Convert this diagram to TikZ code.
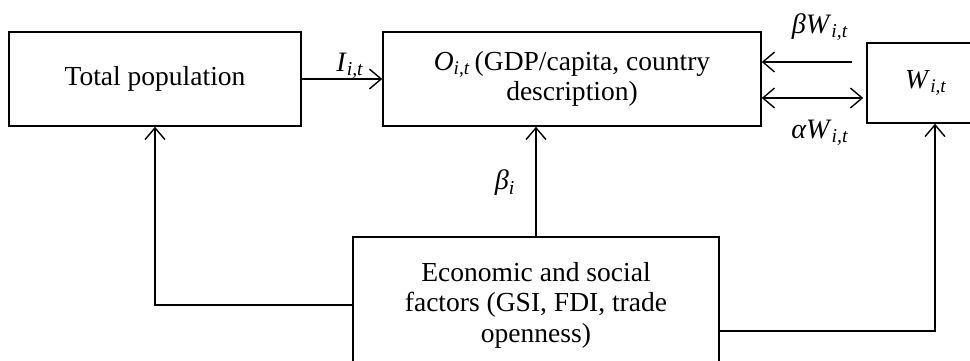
\documentclass[tikz,border=0pt]{standalone}
\usepackage{fontspec}
\setmainfont{Liberation Serif}
\usetikzlibrary{calc,arrows.meta}
\newcommand{\vsub}[2]{\textit{#1}\textsubscript{\textit{#2}}}
\begin{document}
\begin{tikzpicture}[x=0.03cm,y=-0.03cm,
  box/.style={draw,line width=1.3pt,inner sep=0pt,align=center,
    font=\fontsize{23.5}{26}\selectfont},
  arr/.style={line width=1.2pt,-{Straight Barb[length=10pt,width=17pt,line width=1.2pt]}},
  arrb/.style={line width=1.2pt,{Straight Barb[length=10pt,width=17pt,line width=1.2pt]}-{Straight Barb[length=10pt,width=17pt,line width=1.2pt]}},
  lab/.style={font=\fontsize{24}{26}\selectfont}]
\useasboundingbox (0,0) rectangle (970,360);
%% boxes
\node[box,minimum width=292*0.03cm,minimum height=94*0.03cm] (pop) at (155,79) {Total population};
\node[box,minimum width=378*0.03cm,minimum height=94*0.03cm] (out) at (572,79)
  {\vsub{O}{i,t}\,(GDP/capita, country\\description)};
\node[box,minimum width=118*0.03cm,minimum height=80*0.03cm] (W) at (926,83) {\vsub{W}{i,t}};
\node[box,minimum width=366*0.03cm,minimum height=136*0.03cm] (E) at (536,305)
  {Economic and social\\factors (GSI, FDI, trade\\openness)};
%% helper points
\coordinate (wtop) at ($(W.west)+(-14,-21)$);
\coordinate (wbot) at ($(W.west)+(-3,15)$);
%% connectors
\draw[arr] (pop.east) -- (out.west);
\draw[arr] (wtop) -- (wtop -| out.east);
\draw[arrb] (wbot -| out.east) -- (wbot);
\draw[arr] (E.north) -- (E.north |- out.south);
\draw[arr] (E.west) -| (pop.south);
\draw[arr] ($(E.east)+(0,26)$) -| ($(W.south)+(9,0)$);
%% labels
\node[lab] (li) at (350,66) {\vsub{I}{i,t}};
\node[lab] (lbw) at (820,27) {\vsub{βW}{i,t}};
\node[lab] (law) at (820,133) {\vsub{αW}{i,t}};
\node[lab] (lb) at (505,183) {\vsub{β}{i}};
\end{tikzpicture}
\end{document}
